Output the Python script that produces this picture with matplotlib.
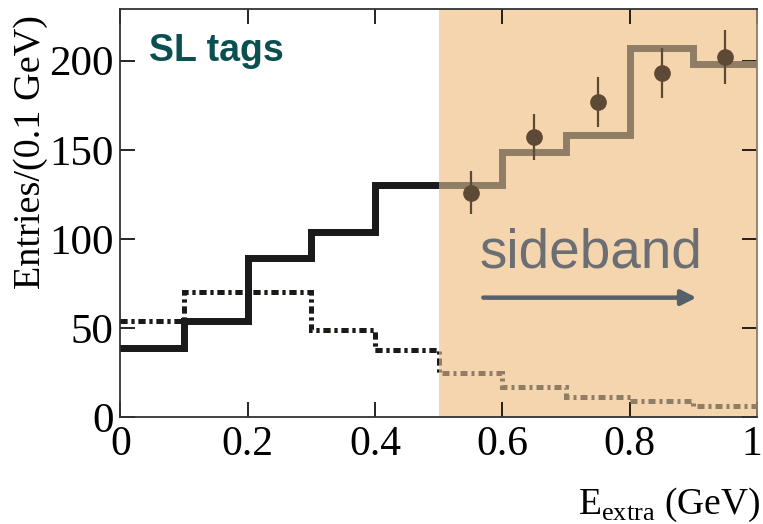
import matplotlib
matplotlib.use("Agg")
import matplotlib.pyplot as plt
import matplotlib.transforms as mtransforms
import numpy as np
from matplotlib.patches import Rectangle

plt.rcParams['font.family'] = ['Liberation Serif', 'DejaVu Serif']
plt.rcParams['mathtext.fontset'] = 'custom'
plt.rcParams['mathtext.rm'] = 'Liberation Serif'

# data
bin_edges = [0.0, 0.1, 0.2, 0.3, 0.4, 0.5, 0.6, 0.7, 0.8, 0.9, 1.0]
signal_mc = [39, 54, 89, 104, 130, 130, 149, 158, 207, 198]
background_mc = [54, 70, 70, 49, 37.5, 24.5, 17, 11.5, 9, 6]
data_x = [0.55, 0.65, 0.75, 0.85, 0.95]
data_y = [126, 157, 177, 193, 202]
data_err = [12, 13, 14, 14, 15]
sideband_lo, sideband_hi = 0.5, 1.0

tan = '#F5D5AD'
brown = '#8F7D66'
dot_col = '#5E4934'

fig = plt.figure(figsize=(7.63, 5.24), dpi=100)
ax = fig.add_axes([120.5 / 763, 107 / 524, (757 - 120.5) / 763, (417 - 9) / 524])

ax.axvspan(sideband_lo, sideband_hi, color=tan, lw=0, zorder=0)

# full histograms in the sideband colour, then black clipped to the signal region
dash = (0, (1.4, 0.8, 0.6, 0.8))
ax.stairs(signal_mc, bin_edges, baseline=None, color=brown, lw=5, zorder=2)
ax.stairs(background_mc, bin_edges, baseline=None, color=brown, lw=3.6, ls=dash, zorder=2)
clip = Rectangle((0, -50), sideband_lo, 400, transform=ax.transData)
s1 = ax.stairs(signal_mc, bin_edges, baseline=None, color='#1a1a1a', lw=5, zorder=3)
s2 = ax.stairs(background_mc, bin_edges, baseline=None, color='#1a1a1a', lw=3.6, ls=dash, zorder=3)
s1.set_clip_path(clip)
s2.set_clip_path(clip)

ax.errorbar(data_x, data_y, yerr=data_err, fmt='o', color=dot_col, ms=11,
            elinewidth=1.6, capsize=0, zorder=4)

ax.set_xlim(0, 1)
ax.set_ylim(0, 229)
ax.set_xticks([0, 0.2, 0.4, 0.6, 0.8, 1.0])
ax.set_xticklabels(['0', '0.2', '0.4', '0.6', '0.8', '1'])
ax.set_yticks([0, 50, 100, 150, 200])
ax.tick_params(direction='in', length=11, width=1.2, top=True, right=True,
               labelsize=30, pad=6)
ax.tick_params(axis='y', labelsize=31, pad=5)
for t in ax.yaxis.get_major_ticks():
    t.tick2line.set_color(brown)
for t, v in zip(ax.xaxis.get_major_ticks(), ax.get_xticks()):
    if v > sideband_lo:
        t.tick1line.set_color(brown)
        t.tick2line.set_color(brown)
for s in ax.spines.values():
    s.set_linewidth(1.3)
    s.set_color('#333333')
ax.spines['right'].set_color(brown)

# keep the "1" inside the canvas
last = ax.get_xticklabels()[-1]
last.set_transform(last.get_transform() +
                   mtransforms.ScaledTranslation(-5 / 100, 0, fig.dpi_scale_trans))

ax.text(0.045, 200, 'SL tags', family='Liberation Sans', fontweight='bold',
        fontsize=27, color='#0B5050', va='baseline')
ax.text(0.564, 84, 'sideband', family='Liberation Sans', fontsize=39.5,
        color='#6B6E72', va='baseline')
ax.annotate('', xy=(0.905, 67), xytext=(0.57, 67),
            arrowprops=dict(arrowstyle='-|>,head_length=0.9,head_width=0.45',
                            color='#56606B', lw=3.2, shrinkA=0, shrinkB=0))

fig.text(0.04, 0.972, 'Entries/(0.1 GeV)', rotation=90, ha='center', va='top', fontsize=27.5)
fig.text(0.997, 0.02, r'E$_{\mathrm{extra}}$ (GeV)', ha='right', va='baseline', fontsize=27)

fig.savefig('out.png', dpi=100)
